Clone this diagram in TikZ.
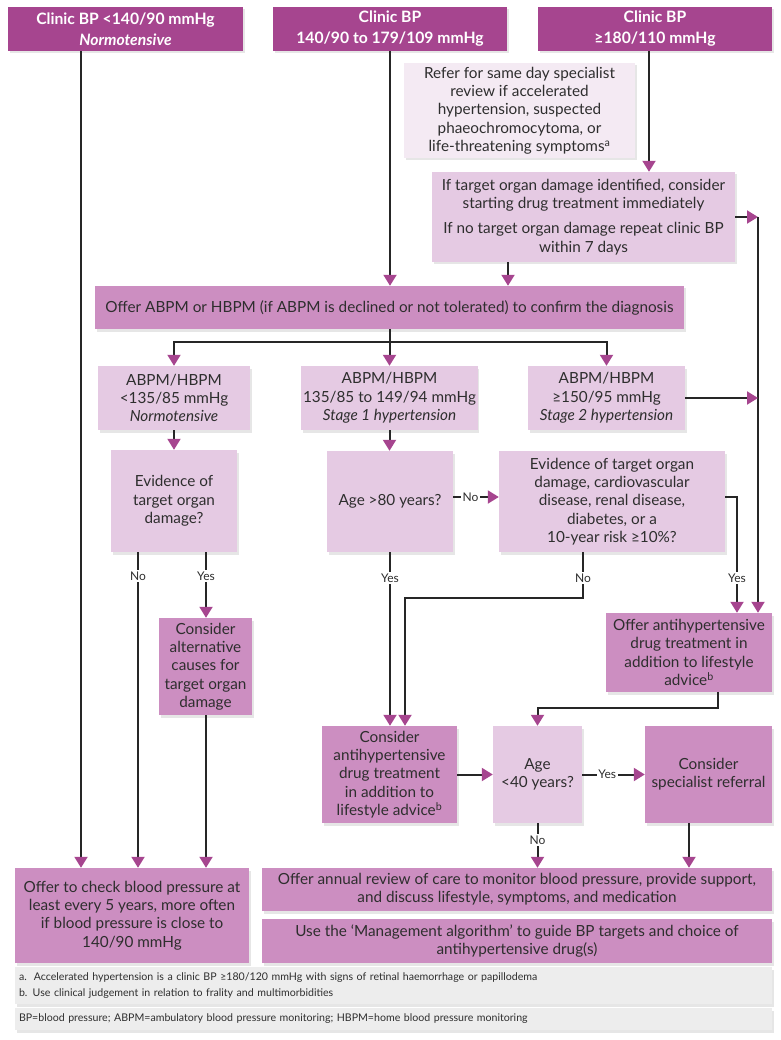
\documentclass[tikz,border=0pt]{standalone}
\usepackage{fontspec}
\setmainfont{Lato}
\usetikzlibrary{arrows.meta,shadows}

\definecolor{bpdark}{HTML}{A6458F}
\definecolor{bpmid}{HTML}{CC8EC1}
\definecolor{bplight}{HTML}{E5CAE3}
\definecolor{bppale}{HTML}{F4EAF3}
\definecolor{bpgrey}{HTML}{EDEDED}
\definecolor{bptext}{HTML}{2E2E2E}

\tikzset{
  box/.style={align=center, inner sep=2pt, text=bptext,
    font=\fontsize{15.3}{18.3}\selectfont,
    drop shadow={shadow xshift=1.5pt, shadow yshift=-2.5pt, opacity=0.2}},
  wh/.style 2 args={minimum width=#1pt, minimum height=#2pt},
  headbox/.style={box, fill=bpdark, text=white, font=\fontsize{15.7}{21}\selectfont\bfseries},
  midbox/.style={box, fill=bpmid},
  lightbox/.style={box, fill=bplight},
  palebox/.style={box, fill=bppale},
  notebox/.style={box, fill=bpgrey, align=left, font=\fontsize{10.6}{16}\selectfont},
  flow/.style={line width=2pt, draw=black!85, -{Triangle[width=13pt, length=11pt, color=bpdark]}},
  link/.style={line width=2pt, draw=black!85},
  lbl/.style={fill=white, inner sep=1.5pt, text=bptext, font=\fontsize{12}{13}\selectfont},
}

\begin{document}
\begin{tikzpicture}[x=1pt, y=-1pt]
    \useasboundingbox (0,0) rectangle (780,1040);

    % clinic BP
    \node[headbox, wh={235}{44}] (hA) at (125.5,29) {Clinic BP <140/90 mmHg\\\textit{Normotensive}};
    \node[headbox, wh={234}{44}] (hB) at (390,29) {Clinic BP\\140/90 to 179/109 mmHg};
    \node[headbox, wh={234}{44}] (hC) at (655,29) {Clinic BP\\≥180/110 mmHg};
    \node[palebox, wh={231}{95}] (refer) at (519.5,110.5) {Refer for same day specialist\\review if accelerated\\hypertension, suspected\\phaeochromocytoma, or\\life-threatening symptoms\textsuperscript{a}};
    \node[lightbox, wh={303}{90}] (tod) at (583.5,217) {If target organ damage identified, consider\\starting drug treatment immediately\\[7pt]If no target organ damage repeat clinic BP\\within 7 days};
    \node[midbox, wh={589}{43}] (confirm) at (389.5,307.5) {Offer ABPM or HBPM (if ABPM is declined or not tolerated) to confirm the diagnosis};

    % ABPM/HBPM results
    \node[lightbox, wh={152}{64}] (normo) at (174,398) {ABPM/HBPM\\<135/85 mmHg\\\textit{Normotensive}};
    \node[lightbox, wh={175}{64}] (stageA) at (389.5,398) {ABPM/HBPM\\135/85 to 149/94 mmHg\\\textit{Stage 1 hypertension}};
    \node[lightbox, wh={157}{64}] (stageB) at (606.5,398) {ABPM/HBPM\\≥150/95 mmHg\\\textit{Stage 2 hypertension}};

    % questions
    \node[lightbox, wh={126}{102}] (damage) at (174,501) {Evidence of\\target organ\\damage?};
    \node[lightbox, wh={126}{101}] (ageA) at (390,501.5) {Age >80 years?};
    \node[lightbox, wh={226}{101}] (risk) at (612,501.5) {Evidence of target organ\\damage, cardiovascular\\disease, renal disease,\\diabetes, or a\\10-year risk ≥10\%?};
    \node[midbox, wh={93}{97}] (causes) at (205.5,666.5) {Consider\\alternative\\causes for\\target organ\\damage};
    \node[midbox, wh={166}{79}] (offer) at (689,652.5) {Offer antihypertensive\\drug treatment in\\addition to lifestyle\\advice\textsuperscript{b}};
    \node[midbox, wh={135}{97}] (consider) at (389.5,774.5) {Consider\\antihypertensive\\drug treatment\\in addition to\\lifestyle advice\textsuperscript{b}};
    \node[lightbox, wh={89}{97}] (ageB) at (537.5,774.5) {Age\\<40 years?};
    \node[midbox, wh={127}{97}] (refer2) at (708.5,774.5) {Consider\\specialist referral};

    % outcomes
    \node[midbox, wh={234}{95}] (check) at (132,915.5) {Offer to check blood pressure at\\least every 5 years, more often\\if blood pressure is close to\\140/90 mmHg};
    \node[midbox, wh={510}{43}] (annual) at (517,889.5) {Offer annual review of care to monitor blood pressure, provide support,\\and discuss lifestyle, symptoms, and medication};
    \node[midbox, wh={510}{44}] (algo) at (517,941) {Use the ‘Management algorithm’ to guide BP targets and choice of\\antihypertensive drug(s)};

    % footnotes
    \node[notebox, wh={757}{37}, text width=749pt] (notes) at (393.5,985.5) {a.\ \ Accelerated hypertension is a clinic BP ≥180/120 mmHg with signs of retinal haemorrhage or papillodema\\b. Use clinical judgement in relation to frality and multimorbidities};
    \node[notebox, wh={757}{22}, text width=749pt] (abbr) at (393.5,1019) {BP=blood pressure; ABPM=ambulatory blood pressure monitoring; HBPM=home blood pressure monitoring};

    % connectors from the top
    \draw[flow] ([xshift=-44.5pt]hA.south) -- ([xshift=-44.5pt]hA.south |- check.north);
    \draw[flow] (hB.south) -- (hB.south |- confirm.north);
    \draw[flow] ([xshift=-6pt]hC.south) -- ([xshift=-6pt]hC.south |- tod.north);
    \draw[flow] ([xshift=-75.5pt]tod.south) -- ([xshift=-75.5pt]tod.south |- confirm.north);

    % right hand bus
    \coordinate (bus) at (758,217);
    \draw[flow] (tod.east) -- (bus);
    \draw[flow] (bus) -- (bus |- offer.north);
    \draw[flow] (stageB.east) -- (stageB.east -| bus);

    % split into the three results
    \draw[link] (confirm.south) -- ++(0,13) coordinate (split);
    \draw[flow] (confirm.south) -- (stageA.north);
    \draw[flow] (split) -| (normo.north);
    \draw[flow] (split) -| (stageB.north);

    \draw[flow] (normo) -- (damage);
    \draw[flow] (stageA.south) -- (stageA.south |- ageA.north);
    \draw[flow] ([yshift=4.5pt]ageA.east) -- node[lbl, pos=0.38] {No} ([yshift=4.5pt]ageA.east -| risk.west);

    % no / yes branches
    \draw[flow] ([xshift=-36pt]damage.south) -- ++(0,24) node[lbl] {No} -- ([xshift=-36pt]damage.south |- check.north);
    \draw[flow] ([xshift=32pt]damage.south) -- ++(0,24) node[lbl] {Yes} -- ([xshift=32pt]damage.south |- causes.north);
    \draw[flow] ([xshift=0.5pt]causes.south) -- ([xshift=0.5pt]causes.south |- check.north);
    \draw[flow] (ageA.south) -- ++(0,26) node[lbl] {Yes} -- (ageA.south |- consider.north);
    \draw[flow] ([xshift=-29pt]risk.south) -- ++(0,26) node[lbl] {No} -- ++(0,20) -| ([xshift=15.5pt]consider.north);
    \draw[flow] ([yshift=4.5pt]risk.east) -| node[lbl, pos=0.85] {Yes} ([xshift=48pt]offer.north);
    \draw[flow] ([xshift=29pt]offer.south) -- ++(0,16) -| (ageB.north);

    % bottom row
    \draw[flow] (consider) -- (ageB);
    \draw[flow] (ageB) -- node[lbl, pos=0.4] {Yes} (refer2);
    \draw[flow] (ageB.south) -- ++(0,17) node[lbl] {No} -- (ageB.south |- annual.north);
    \draw[flow] ([xshift=-19.5pt]refer2.south) -- ([xshift=-19.5pt]refer2.south |- annual.north);
\end{tikzpicture}
\end{document}
